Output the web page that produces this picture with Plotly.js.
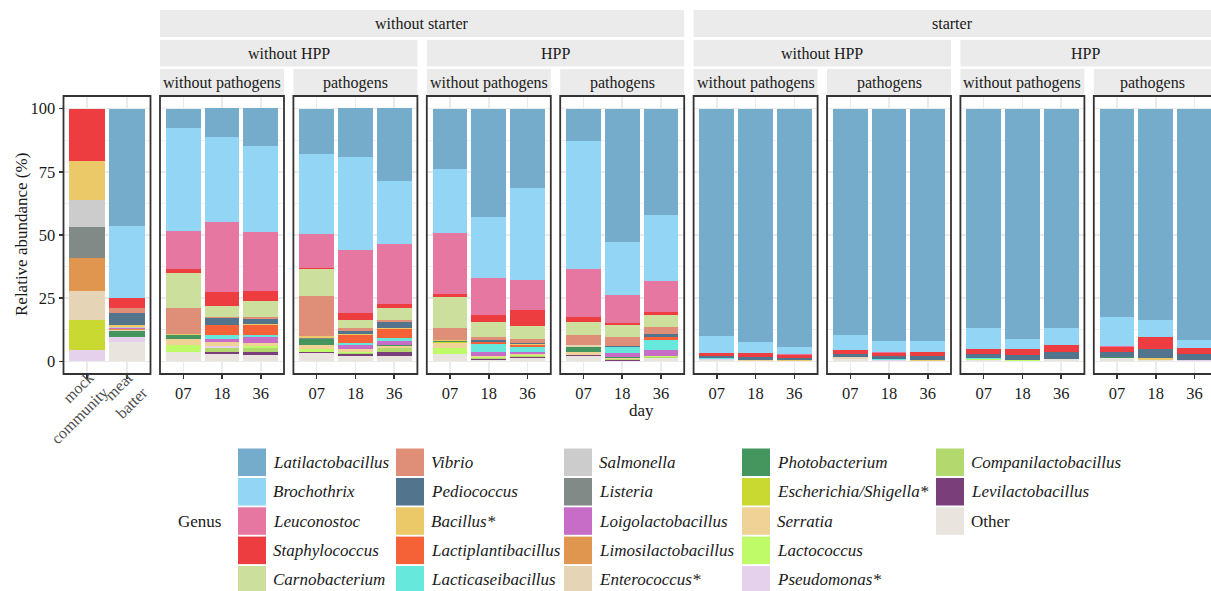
<!DOCTYPE html>
<html><head><meta charset="utf-8">
<script src="https://cdn.plot.ly/plotly-3.0.1.min.js"></script>
<style>html,body{margin:0;padding:0;background:#fff}#chart{width:1211px;height:591px}</style>
</head><body><div id="chart"></div>
<script>
// ---------- DATA ----------
const genera = ["Latilactobacillus","Brochothrix","Leuconostoc","Staphylococcus","Carnobacterium",
  "Vibrio","Pediococcus","Bacillus*","Lactiplantibacillus","Lacticaseibacillus",
  "Salmonella","Listeria","Loigolactobacillus","Limosilactobacillus","Enterococcus*",
  "Photobacterium","Escherichia/Shigella*","Serratia","Lactococcus","Pseudomonas*",
  "Companilactobacillus","Levilactobacillus","Other"];
const genusColors = ["#75ABCB","#92D5F4","#E677A0","#EE3D41","#CCDF9D",
  "#DF8F78","#52748C","#EBC968","#F56237","#67E8DC",
  "#CCCCCC","#828A87","#C76CC7","#E0964F","#E6D4B7",
  "#45955E","#C9D931","#F0D196","#BFFA69","#E6D1ED",
  "#B3D86D","#7A3F7A","#E9E4DE"];
const controlLabels = ["mock<br>community","meat<br>batter"];
const days = ["07","18","36"];
const starterLabels = ["without starter","starter"];
const hppLabels = ["without HPP","HPP"];
const pathogenLabels = ["without pathogens","pathogens"];

// values in genus order (relative abundance, %)
const mockCommunity = [0,0,0,20.6,0,0,0,15.4,0,0,10.8,12.3,0,13.1,11.5,0,11.9,0,0,4.4,0,0,0];
const meatBatter    = [46.4,28.6,0,4.0,0,2.0,4.7,0.8,0,0,0.4,0,0.3,0.4,0.3,2.4,0,0,0,2.0,0,0,7.7];

const noStarter_noHPP_noPath_07 = [7.5,40.9,15.1,1.6,13.9,10.3,0,0.4,0,0,0,0,0,0,0,1.6,0,2.4,2.4,0.3,0,0,3.6];
const noStarter_noHPP_noPath_18 = [11.5,33.3,27.8,5.6,4.3,0.4,2.8,0,4.0,1.6,0,0,1.2,0,0,0,0,1.6,0,0.9,1.5,0.8,2.8];
const noStarter_noHPP_noPath_36 = [14.7,34.1,23.4,4.0,6.3,0.8,2.0,0.4,4.0,0.8,0,0,2.4,0,0,0,0,1.2,0.8,0,1.6,1.2,2.4];

const noStarter_noHPP_path_07 = [17.9,31.7,13.5,0.4,10.7,15.9,0,0.6,0,0,0,0.5,0,0,0,2.4,0,1.6,1.2,0,0,0.4,3.2];
const noStarter_noHPP_path_18 = [19.4,36.5,25.0,2.8,3.2,1.2,1.2,0.4,3.2,0.8,0,0,1.6,0,0,0,0,1.2,0.4,0,0.4,0.8,2.0];
const noStarter_noHPP_path_36 = [28.6,25.0,23.8,1.6,4.7,0.8,2.4,0.4,3.6,1.2,0,0,1.6,0,0,0.4,0,0.8,0,0,1.6,1.6,2.0];

const noStarter_HPP_noPath_07 = [23.8,25.4,24.2,1.2,11.9,4.8,0,0.6,0,0,0,0,0,0,0,0.4,0.4,2.0,2.4,0,0,0,2.8];
const noStarter_HPP_noPath_18 = [42.9,24.2,14.7,2.8,5.6,1.2,0.8,0,0.8,3.2,0,0,1.6,0,0,0,0,0.4,0.4,0,0.4,0.3,0.7];
const noStarter_HPP_noPath_36 = [31.3,36.5,11.9,6.3,5.2,1.6,0.4,0.4,0.8,2.0,0,0,0.8,0,0,0,0,0.3,0.3,0,0.4,0.4,1.4];

const noStarter_HPP_path_07 = [12.7,50.8,19.0,2.0,5.2,4.0,0,0,0,0,0,0,0,0,0.8,1.6,0,1.2,0,0,0,0.4,2.3];
const noStarter_HPP_path_18 = [52.8,21.0,11.1,0.8,4.8,3.5,0.4,0,0,2.4,0,0,1.6,0,0,0.3,0,0.4,0,0,0.4,0.2,0.3];
const noStarter_HPP_path_36 = [42.1,26.2,12.3,1.1,4.8,2.8,1.2,0,1.2,3.9,0,0,2.4,0,0,0,0,0,0.4,0,0.4,0,1.2];

const starter_noHPP_noPath_07 = [89.9,6.7,0,1.1,0,0.3,0.7,0,0,0.4,0,0,0,0,0,0,0,0,0,0.3,0,0,0.6];
const starter_noHPP_noPath_18 = [92.5,4.3,0,1.6,0,0,1.2,0,0,0,0,0,0,0,0,0,0,0.4,0,0,0,0,0];
const starter_noHPP_noPath_36 = [94.4,2.7,0.4,1.2,0,0,0.8,0.5,0,0,0,0,0,0,0,0,0,0,0,0,0,0,0];

const starter_noHPP_path_07 = [89.7,5.9,0,1.6,0,0,1.2,0,0,0,0,0,0,0,0.6,0,0,0,0,0,0,0,1.0];
const starter_noHPP_path_18 = [92.1,4.2,0.4,1.2,0,0,1.3,0,0,0.3,0,0,0,0,0,0,0,0,0,0.5,0,0,0];
const starter_noHPP_path_36 = [92.1,4.3,0,1.6,0,0,1.6,0.4,0,0,0,0,0,0,0,0,0,0,0,0,0,0,0];

const starter_HPP_noPath_07 = [86.9,8.3,0,2.0,0,0,1.6,0,0,0.4,0,0,0,0,0,0,0,0,0.4,0,0,0,0.4];
const starter_HPP_noPath_18 = [91.3,3.9,0,2.4,0,0,1.9,0,0,0,0,0,0,0,0,0,0,0,0.5,0,0,0,0];
const starter_HPP_noPath_36 = [86.9,6.8,0,2.7,0,0,2.8,0,0,0,0,0,0,0,0,0,0,0,0,0,0,0,0.8];

const starter_HPP_path_07 = [82.5,11.5,0.4,2.0,0,0,2.0,0,0,0,0,0,0,0,0,0.4,0,0,0,0,0,0,1.2];
const starter_HPP_path_18 = [83.7,6.8,0,4.7,0,0,3.6,0.6,0,0,0,0,0,0,0,0,0,0,0,0,0,0,0.6];
const starter_HPP_path_36 = [91.7,3.1,0,2.4,0,0,2.4,0,0,0,0,0,0,0,0,0,0,0,0,0.4,0,0,0];

// ---------- LAYOUT HELPERS ----------
const W = 1211, H = 591;
const px = x => x / W;
const py = y => 1 - y / H;
const FONT = "Liberation Serif, 'Times New Roman', Times, serif";
const panelTop = 96, panelBottom = 374;
const unitPx = 124 / 3.2;

const panels = [
  {left: 63.5, right: 150.5, cats: controlLabels, samples: [mockCommunity, meatBatter]},
  {cats: days, samples: [noStarter_noHPP_noPath_07, noStarter_noHPP_noPath_18, noStarter_noHPP_noPath_36]},
  {cats: days, samples: [noStarter_noHPP_path_07, noStarter_noHPP_path_18, noStarter_noHPP_path_36]},
  {cats: days, samples: [noStarter_HPP_noPath_07, noStarter_HPP_noPath_18, noStarter_HPP_noPath_36]},
  {cats: days, samples: [noStarter_HPP_path_07, noStarter_HPP_path_18, noStarter_HPP_path_36]},
  {cats: days, samples: [starter_noHPP_noPath_07, starter_noHPP_noPath_18, starter_noHPP_noPath_36]},
  {cats: days, samples: [starter_noHPP_path_07, starter_noHPP_path_18, starter_noHPP_path_36]},
  {cats: days, samples: [starter_HPP_noPath_07, starter_HPP_noPath_18, starter_HPP_noPath_36]},
  {cats: days, samples: [starter_HPP_path_07, starter_HPP_path_18, starter_HPP_path_36]}
];
for (let k = 1; k < panels.length; k++) {
  panels[k].left = 160 + (k - 1) * 133.4;
  panels[k].right = panels[k].left + 124;
}

const traces = [];
const layout = {
  width: W, height: H,
  margin: {l: 0, r: 0, t: 0, b: 0},
  paper_bgcolor: "#ffffff", plot_bgcolor: "#ffffff",
  barmode: "stack", bargap: 0.1,
  showlegend: false,
  font: {family: FONT, color: "#1a1a1a", size: 16},
  shapes: [], annotations: []
};

panels.forEach((p, i) => {
  const sfx = i === 0 ? "" : String(i + 1);
  const visRight = Math.min(p.right, W);
  const unit = i === 0 ? (p.right - p.left) / 2.2 : unitPx;
  const rangeHi = -0.6 + (visRight - p.left) / unit;
  for (let g = genera.length - 1; g >= 0; g--) {
    traces.push({
      type: "bar", name: genera[g],
      x: p.cats, y: p.samples.map(s => s[g]),
      xaxis: "x" + sfx, yaxis: "y" + sfx,
      width: 0.9,
      marker: {color: genusColors[g], line: {width: 0}},
      showlegend: false,
      hovertemplate: genera[g] + ": %{y}%<extra></extra>"
    });
  }
  layout["xaxis" + sfx] = {
    domain: [px(p.left), px(visRight)], anchor: "y" + sfx,
    type: "category", categoryorder: "array", categoryarray: p.cats,
    range: [-0.6, rangeHi],
    showgrid: true, gridcolor: "#EBEBEB", gridwidth: 1.5,
    zeroline: false, showline: false,
    ticks: "outside", ticklen: 4, tickwidth: 1.5, tickcolor: "#333333",
    showticklabels: i !== 0,
    tickfont: {family: FONT, size: 16.5, color: "#1a1a1a"},
    fixedrange: true
  };
  layout["yaxis" + sfx] = {
    domain: [py(panelBottom), py(panelTop)], anchor: "x" + sfx,
    range: [-5, 105], tickvals: [0, 25, 50, 75, 100],
    showgrid: true, gridcolor: "#EBEBEB", gridwidth: 1.5,
    minor: {tickvals: [12.5, 37.5, 62.5, 87.5], showgrid: true, gridcolor: "#EBEBEB", gridwidth: 0.8},
    zeroline: false, showline: false,
    showticklabels: i === 0,
    ticks: i === 0 ? "outside" : "", ticklen: 4, tickwidth: 1.5, tickcolor: "#333333",
    tickfont: {family: FONT, size: 16.5, color: "#1a1a1a"},
    fixedrange: true
  };
  // panel border
  layout.shapes.push({type: "rect", xref: "paper", yref: "paper", layer: "above",
    x0: px(p.left), x1: px(p.right), y0: py(panelBottom), y1: py(panelTop),
    line: {color: "#333333", width: 1.8}, fillcolor: "rgba(0,0,0,0)"});
});

// rotated (45°) two-line labels of the control panel, right-aligned, top-right corner near the tick
(function () {
  const fs = 16;
  const ctx = document.createElement("canvas").getContext("2d");
  ctx.font = fs + "px 'Liberation Serif'";
  const c = Math.SQRT1_2;
  controlLabels.forEach((lab, idx) => {
    const lines = lab.split("<br>");
    const w = Math.max(...lines.map(l => ctx.measureText(l).width)) + 2;
    const h = lines.length * fs * 1.3;
    const anchorY = 367;
    const dx = -c * (w - h) / 2 - 3;
    const cy = anchorY + c * (w + h) / 2;
    layout.annotations.push({xref: "x", yref: "paper", x: idx, xshift: dx, y: py(cy),
      text: lab, textangle: -45, align: "right", showarrow: false,
      xanchor: "center", yanchor: "middle",
      font: {family: FONT, size: fs, color: "#4D4D4D"}});
  });
})();

// strips
function strip(x0, x1, y0, y1, text) {
  layout.shapes.push({type: "rect", xref: "paper", yref: "paper", layer: "below",
    x0: px(x0), x1: px(x1), y0: py(y1), y1: py(y0),
    line: {width: 0}, fillcolor: "#EBEBEB"});
  layout.annotations.push({xref: "paper", yref: "paper", x: px((x0 + Math.min(x1, W)) / 2), y: py((y0 + y1) / 2),
    text: text, showarrow: false, xanchor: "center", yanchor: "middle",
    font: {family: FONT, size: 16, color: "#1a1a1a"}});
}
for (let k = 1; k < panels.length; k++) {
  strip(panels[k].left, panels[k].right, 69, 96, pathogenLabels[(k - 1) % 2]);
}
for (let j = 0; j < 4; j++) {
  strip(panels[1 + 2 * j].left, panels[2 + 2 * j].right, 40, 66.5, hppLabels[j % 2]);
}
for (let j = 0; j < 2; j++) {
  strip(panels[1 + 4 * j].left, panels[4 + 4 * j].right, 10, 37, starterLabels[j]);
}

// axis titles
layout.annotations.push({xref: "paper", yref: "paper", x: px(21), y: py(235), text: "Relative abundance (%)",
  textangle: -90, showarrow: false, xanchor: "center", yanchor: "middle",
  font: {family: FONT, size: 17, color: "#1a1a1a"}});
layout.annotations.push({xref: "paper", yref: "paper", x: px(641), y: py(410), text: "day",
  showarrow: false, xanchor: "center", yanchor: "middle",
  font: {family: FONT, size: 17, color: "#1a1a1a"}});

// legend (drawn from genera / genusColors)
const legendColX = [238, 396, 564, 742, 936];
const legendRowY = [448.5, 478, 507.3, 536.6, 566];
const keySize = 27.5;
layout.annotations.push({xref: "paper", yref: "paper", x: px(176), y: py(521), text: "Genus",
  showarrow: false, xanchor: "left", yanchor: "middle",
  font: {family: FONT, size: 17, color: "#1a1a1a"}});
genera.forEach((g, idx) => {
  const col = Math.floor(idx / 5), row = idx % 5;
  const x0 = legendColX[col], y0 = legendRowY[row];
  layout.shapes.push({type: "rect", xref: "paper", yref: "paper", layer: "above",
    x0: px(x0), x1: px(x0 + 28), y0: py(y0 + keySize), y1: py(y0),
    line: {width: 0}, fillcolor: genusColors[idx]});
  layout.annotations.push({xref: "paper", yref: "paper", x: px(x0 + 33), y: py(y0 + keySize / 2),
    text: g === "Other" ? g : "<i>" + g + "</i>", showarrow: false, xanchor: "left", yanchor: "middle",
    font: {family: FONT, size: 17, color: "#1a1a1a"}});
});

Plotly.newPlot("chart", traces, layout, {staticPlot: true, displayModeBar: false});
</script>
</body></html>
